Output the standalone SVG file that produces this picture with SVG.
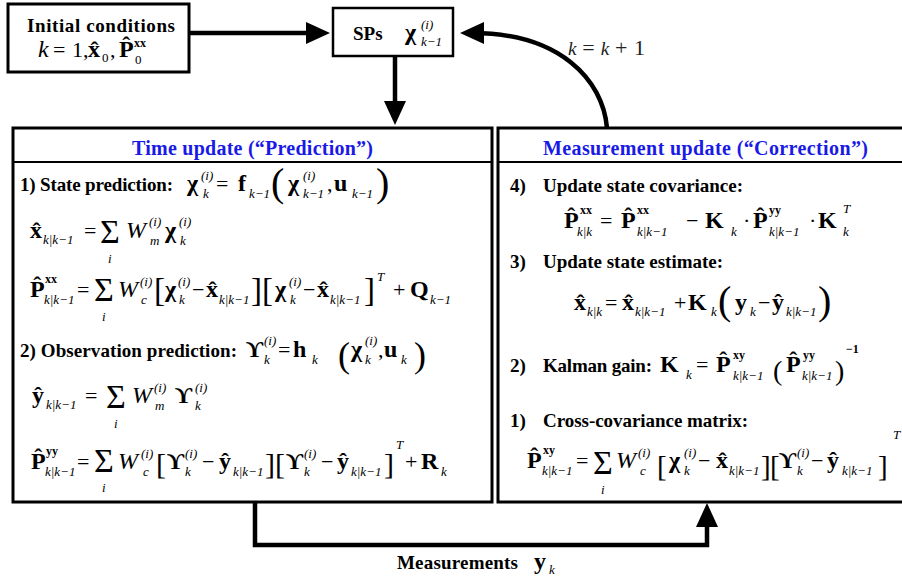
<svg xmlns="http://www.w3.org/2000/svg" width="902" height="581" viewBox="0 0 902 581">
<style>
text{font-family:"Liberation Serif","DejaVu Serif",serif;fill:#000}
.box{fill:#fff;stroke:#000;stroke-width:3}
.sep{stroke:#000;stroke-width:2}
.conn{fill:none;stroke:#000;stroke-width:4.5;marker-end:url(#ah)}
.lbl{font-weight:bold;font-size:19px}
.ttl{font-weight:bold;font-size:20px;fill:#1a1ae6;text-anchor:middle}
.m{font-weight:bold;font-size:24px}
.op{font-size:22px;font-weight:normal;font-style:normal}
.it{font-style:italic;font-size:24px;font-weight:normal}
.s{font-style:italic;font-size:13px;font-weight:normal}
.sr{font-style:normal;font-size:13px;font-weight:normal}
.sb{font-weight:bold;font-size:12px;font-style:normal}
.sig{font-size:34px;font-weight:normal}
.br{font-weight:normal}
.lab{font-style:italic;font-size:19px;fill:#222}
</style>
<defs>
<marker id="ah" viewBox="0 0 24 22" refX="12" refY="11" markerWidth="24" markerHeight="22" markerUnits="userSpaceOnUse" orient="auto">
<path d="M0,0 L24,11 L0,22 z" fill="#000"/>
</marker>
</defs>
<rect width="902" height="581" fill="#fff"/>

<g id="connectors">
<path class="conn" d="M189 33 H318"/>
<path class="conn" d="M395 56 V113"/>
<path class="conn" d="M607 128 C603 80 560 33 472 33"/>
<path class="conn" d="M255 502 V545 H707 V515"/>
<text x="568" y="55" class="lab" textLength="77">k <tspan class="op" font-size="19">=</tspan> k <tspan class="op" font-size="19">+ 1</tspan></text>
<text class="lbl"><tspan x="397" y="569" textLength="121">Measurements</tspan><tspan class="m" x="534" y="569" font-size="21">y</tspan><tspan class="s" x="549" y="574">k</tspan></text>
</g>

<g id="init">
<rect class="box" x="8" y="4" width="181" height="68"/>
<text class="lbl" x="27" y="32" font-size="20" textLength="148">Initial conditions</text>
<text class="m" font-size="21"><tspan class="it" x="38" y="57" font-size="21">k</tspan><tspan class="op" x="53" y="57" font-size="20">=</tspan><tspan class="op" x="72" y="57" font-size="20">1</tspan><tspan class="op" x="83" y="57" font-size="20">,</tspan><tspan x="88" y="57">x̂</tspan><tspan class="sr" x="102" y="62">0</tspan><tspan class="op" x="110" y="57" font-size="20">,</tspan><tspan x="119" y="57">P̂</tspan><tspan class="sb" x="134" y="47">xx</tspan><tspan class="sr" x="135" y="64">0</tspan></text>
</g>

<g id="sps">
<rect class="box" x="333" y="8" width="120" height="48" style="stroke-width:2.5"/>
<text class="lbl" x="353" y="40">SPs</text>
<text class="m"><tspan x="405" y="40">χ</tspan><tspan class="s" x="421" y="29">(i)</tspan><tspan class="s" x="421" y="46">k−1</tspan></text>
</g>

<g id="time-update">
<rect class="box" x="13" y="128" width="479" height="374"/>
<line class="sep" x1="13" y1="162" x2="492" y2="162"/>
<text class="ttl" x="252.5" y="155" textLength="241">Time update (“Prediction”)</text>

<text class="lbl" x="20" y="191" textLength="153">1) State prediction:</text>
<text class="m"><tspan x="187" y="191">χ</tspan><tspan class="s" x="201" y="180">(i)</tspan><tspan class="s" x="203" y="198">k</tspan><tspan class="op" x="216" y="191">=</tspan><tspan x="238" y="191">f</tspan><tspan class="s" x="249" y="198">k−1</tspan><tspan class="br" x="271" y="196" font-size="40">(</tspan><tspan x="288" y="191">χ</tspan><tspan class="s" x="303" y="180">(i)</tspan><tspan class="s" x="303" y="198">k−1</tspan><tspan class="op" x="327" y="191">,</tspan><tspan x="334" y="191">u</tspan><tspan class="s" x="352" y="198">k−1</tspan><tspan class="br" x="376" y="196" font-size="40">)</tspan></text>

<text class="m"><tspan x="30" y="238">x̂</tspan><tspan class="s" x="43" y="244">k|k−1</tspan><tspan class="op" x="84" y="238">=</tspan><tspan class="sig" x="100" y="243">Σ</tspan><tspan class="s" x="108" y="263">i</tspan><tspan class="it" x="126" y="238">W</tspan><tspan class="s" x="149" y="226">(i)</tspan><tspan class="s" x="150" y="245">m</tspan><tspan x="165" y="238">χ</tspan><tspan class="s" x="179" y="226">(i)</tspan><tspan class="s" x="180" y="245">k</tspan></text>

<text class="m"><tspan x="30" y="297">P̂</tspan><tspan class="sb" x="45" y="283">xx</tspan><tspan class="s" x="44" y="304">k|k−1</tspan><tspan class="op" x="77" y="297">=</tspan><tspan class="sig" x="94" y="301">Σ</tspan><tspan class="s" x="102" y="321">i</tspan><tspan class="it" x="118" y="297">W</tspan><tspan class="s" x="140" y="286">(i)</tspan><tspan class="s" x="141" y="304">c</tspan><tspan class="br" x="154" y="301" font-size="33">[</tspan><tspan x="165" y="297">χ</tspan><tspan class="s" x="178" y="286">(i)</tspan><tspan class="s" x="179" y="304">k</tspan><tspan class="op" x="192" y="297">−</tspan><tspan x="206" y="297">x̂</tspan><tspan class="s" x="219" y="304">k|k−1</tspan><tspan class="br" x="251" y="301" font-size="33">]</tspan><tspan class="br" x="262" y="301" font-size="33">[</tspan><tspan x="275" y="297">χ</tspan><tspan class="s" x="289" y="286">(i)</tspan><tspan class="s" x="290" y="304">k</tspan><tspan class="op" x="303" y="297">−</tspan><tspan x="317" y="297">x̂</tspan><tspan class="s" x="330" y="304">k|k−1</tspan><tspan class="br" x="364" y="301" font-size="33">]</tspan><tspan class="s" x="377" y="281">T</tspan><tspan class="op" x="393" y="297">+</tspan><tspan x="410" y="297">Q</tspan><tspan class="s" x="430" y="304">k−1</tspan></text>

<text class="lbl" x="20" y="357" textLength="217">2) Observation prediction:</text>
<text class="m"><tspan x="246" y="357">ϒ</tspan><tspan class="s" x="264" y="345">(i)</tspan><tspan class="s" x="264" y="364">k</tspan><tspan class="op" x="278" y="357">=</tspan><tspan x="293" y="357">h</tspan><tspan class="s" x="312" y="364">k</tspan><tspan class="br" x="338" y="367" font-size="36">(</tspan><tspan x="351" y="357">χ</tspan><tspan class="s" x="365" y="345">(i)</tspan><tspan class="s" x="365" y="364">k</tspan><tspan class="op" x="378" y="357">,</tspan><tspan x="384" y="357">u</tspan><tspan class="s" x="401" y="364">k</tspan><tspan class="br" x="414" y="367" font-size="36">)</tspan></text>

<text class="m"><tspan x="32" y="403">ŷ</tspan><tspan class="s" x="46" y="409">k|k−1</tspan><tspan class="op" x="85" y="403">=</tspan><tspan class="sig" x="106" y="408">Σ</tspan><tspan class="s" x="114" y="428">i</tspan><tspan class="it" x="132" y="403">W</tspan><tspan class="s" x="154" y="392">(i)</tspan><tspan class="s" x="155" y="410">m</tspan><tspan x="175" y="403">ϒ</tspan><tspan class="s" x="195" y="392">(i)</tspan><tspan class="s" x="195" y="410">k</tspan></text>

<text class="m"><tspan x="31" y="469">P̂</tspan><tspan class="sb" x="46" y="455">yy</tspan><tspan class="s" x="45" y="476">k|k−1</tspan><tspan class="op" x="77" y="469">=</tspan><tspan class="sig" x="94" y="472">Σ</tspan><tspan class="s" x="102" y="492">i</tspan><tspan class="it" x="118" y="469">W</tspan><tspan class="s" x="141" y="458">(i)</tspan><tspan class="s" x="143" y="476">c</tspan><tspan class="br" x="156" y="474" font-size="30">[</tspan><tspan x="167" y="469">ϒ</tspan><tspan class="s" x="185" y="458">(i)</tspan><tspan class="s" x="185" y="476">k</tspan><tspan class="op" x="202" y="469">−</tspan><tspan x="219" y="469">ŷ</tspan><tspan class="s" x="233" y="476">k|k−1</tspan><tspan class="br" x="265" y="474" font-size="30">]</tspan><tspan class="br" x="275" y="474" font-size="30">[</tspan><tspan x="286" y="469">ϒ</tspan><tspan class="s" x="304" y="458">(i)</tspan><tspan class="s" x="304" y="476">k</tspan><tspan class="op" x="321" y="469">−</tspan><tspan x="337" y="469">ŷ</tspan><tspan class="s" x="351" y="476">k|k−1</tspan><tspan class="br" x="384" y="474" font-size="30">]</tspan><tspan class="s" x="396" y="449">T</tspan><tspan class="op" x="405" y="469">+</tspan><tspan x="421" y="469">R</tspan><tspan class="s" x="441" y="476">k</tspan></text>
</g>

<g id="measurement-update">
<rect class="box" x="498" y="128" width="420" height="374"/>
<line class="sep" x1="498" y1="162" x2="902" y2="162"/>
<text class="ttl" x="705.5" y="155" textLength="325">Measurement update (“Correction”)</text>

<text class="lbl" x="510" y="192">4)</text>
<text class="lbl" x="543" y="192" textLength="200">Update state covariance:</text>
<text class="m"><tspan x="564" y="228">P̂</tspan><tspan class="sb" x="580" y="214">xx</tspan><tspan class="s" x="577" y="236">k|k</tspan><tspan class="op" x="600" y="228">=</tspan><tspan x="621" y="228">P̂</tspan><tspan class="sb" x="637" y="214">xx</tspan><tspan class="s" x="637" y="236">k|k−1</tspan><tspan class="op" x="686" y="228">−</tspan><tspan x="705" y="228">K</tspan><tspan class="s" x="731" y="236">k</tspan><tspan class="op" x="743" y="228">·</tspan><tspan x="753" y="228">P̂</tspan><tspan class="sb" x="769" y="214">yy</tspan><tspan class="s" x="769" y="236">k|k−1</tspan><tspan class="op" x="809" y="228">·</tspan><tspan x="818" y="228">K</tspan><tspan class="s" x="843" y="213">T</tspan><tspan class="s" x="843" y="236">k</tspan></text>

<text class="lbl" x="510" y="268">3)</text>
<text class="lbl" x="543" y="268" textLength="180">Update state estimate:</text>
<text class="m"><tspan x="574" y="310">x̂</tspan><tspan class="s" x="587" y="316">k|k</tspan><tspan class="op" x="605" y="310">=</tspan><tspan x="622" y="310">x̂</tspan><tspan class="s" x="635" y="316">k|k−1</tspan><tspan class="op" x="674" y="310">+</tspan><tspan x="688" y="310">K</tspan><tspan class="s" x="711" y="316">k</tspan><tspan class="br" x="718" y="314" font-size="40">(</tspan><tspan x="735" y="310">y</tspan><tspan class="s" x="750" y="316">k</tspan><tspan class="op" x="758" y="310">−</tspan><tspan x="772" y="310">ŷ</tspan><tspan class="s" x="786" y="316">k|k−1</tspan><tspan class="br" x="818" y="314" font-size="40">)</tspan></text>

<text class="lbl" x="510" y="372">2)</text>
<text class="lbl" x="543" y="372" textLength="109">Kalman gain:</text>
<text class="m"><tspan x="660" y="372">K</tspan><tspan class="s" x="686" y="379">k</tspan><tspan class="op" x="696" y="372">=</tspan><tspan x="716" y="372">P̂</tspan><tspan class="sb" x="733" y="359">xy</tspan><tspan class="s" x="733" y="380">k|k−1</tspan><tspan class="br" x="773" y="380" font-size="28">(</tspan><tspan x="786" y="372">P̂</tspan><tspan class="sb" x="803" y="359">yy</tspan><tspan class="s" x="802" y="380">k|k−1</tspan><tspan class="br" x="835" y="380" font-size="28">)</tspan><tspan class="sb" x="846" y="353">−1</tspan></text>

<text class="lbl" x="510" y="427">1)</text>
<text class="lbl" x="543" y="427" textLength="205">Cross-covariance matrix:</text>
<text class="m"><tspan x="527" y="468">P̂</tspan><tspan class="sb" x="543" y="454">xy</tspan><tspan class="s" x="542" y="475">k|k−1</tspan><tspan class="op" x="576" y="468">=</tspan><tspan class="sig" x="593" y="474">Σ</tspan><tspan class="s" x="601" y="494">i</tspan><tspan class="it" x="616" y="468">W</tspan><tspan class="s" x="638" y="457">(i)</tspan><tspan class="s" x="640" y="475">c</tspan><tspan class="br" x="657" y="476" font-size="29">[</tspan><tspan x="669" y="468">χ</tspan><tspan class="s" x="684" y="457">(i)</tspan><tspan class="s" x="684" y="475">k</tspan><tspan class="op" x="698" y="468">−</tspan><tspan x="716" y="468">x̂</tspan><tspan class="s" x="729" y="475">k|k−1</tspan><tspan class="br" x="761" y="476" font-size="29">]</tspan><tspan class="br" x="770" y="476" font-size="29">[</tspan><tspan x="779" y="468">ϒ</tspan><tspan class="s" x="797" y="457">(i)</tspan><tspan class="s" x="797" y="475">k</tspan><tspan class="op" x="811" y="468">−</tspan><tspan x="827" y="468">ŷ</tspan><tspan class="s" x="842" y="475">k|k−1</tspan><tspan class="br" x="878" y="476" font-size="29">]</tspan><tspan class="s" x="893" y="439">T</tspan></text>
</g>
</svg>
